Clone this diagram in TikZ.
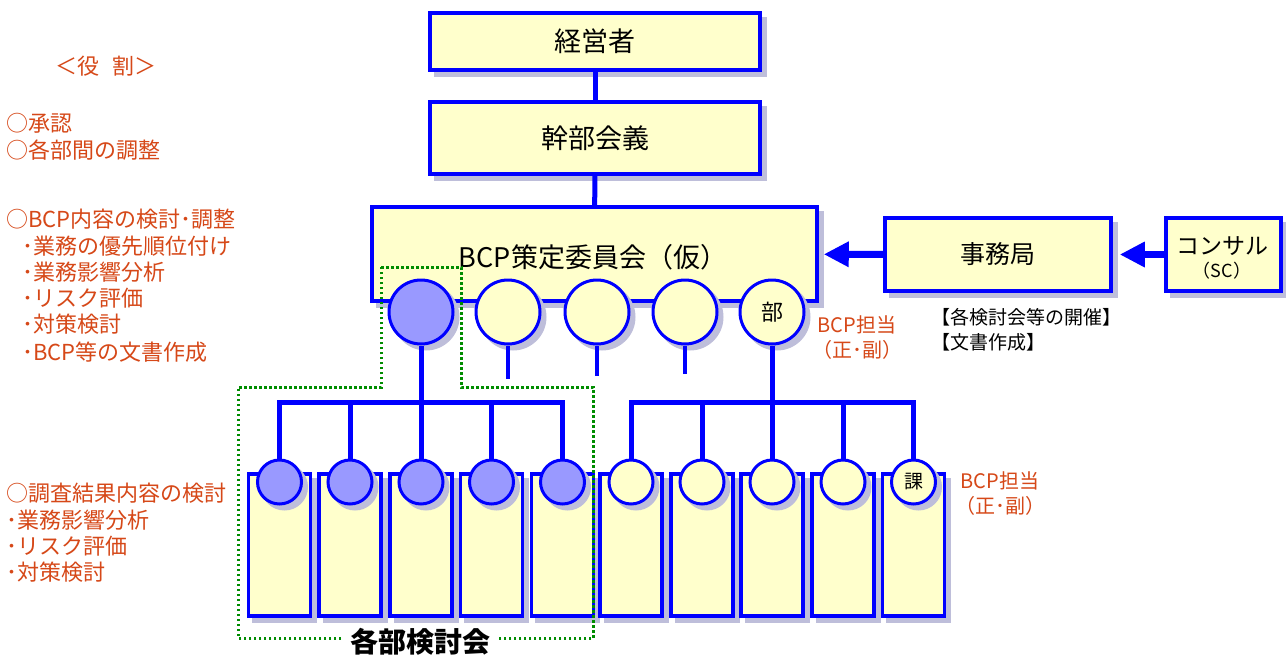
\documentclass[tikz,border=0pt]{standalone}
\usepackage{fontspec}
\setmainfont{Noto Sans CJK JP}
\usetikzlibrary{arrows.meta}
\definecolor{boxy}{RGB}{255,255,204}
\definecolor{bl}{RGB}{0,0,255}
\definecolor{cb}{RGB}{153,153,255}
\definecolor{shc}{RGB}{190,190,218}
\definecolor{rt}{RGB}{214,72,24}
\definecolor{gr}{RGB}{0,140,0}
\begin{document}
\begin{tikzpicture}[x=1pt,y=-1pt,
  shad/.style={preaction={fill=shc,draw=shc,line width=3pt,transform canvas={xshift=5pt,yshift=-5pt}}},
  box/.style={draw=bl,fill=boxy,line width=3.5pt,inner sep=0pt,shad},
  bigc/.style={circle,draw=bl,line width=3pt,minimum size=64pt,inner sep=0pt,shad},
  smc/.style={circle,draw=bl,line width=3pt,minimum size=44pt,inner sep=0pt,shad},
  tall/.style={box,minimum width=62pt,minimum height=142pt},
  conn/.style={draw=bl,line width=5pt},
  thin/.style={draw=bl,line width=4pt},
  arr/.style={draw=bl,line width=7pt,-{Triangle[length=25pt,width=24pt]}},
  role/.style={text=rt,font=\fontsize{22pt}{24pt}\selectfont,inner sep=0pt,anchor=west},
  tanto/.style={text=rt,font=\fontsize{20pt}{24pt}\selectfont,inner sep=0pt},
  note/.style={font=\fontsize{19pt}{22pt}\selectfont,inner sep=0pt,anchor=west},
  big/.style={font=\fontsize{27pt}{30pt}\selectfont}
]
\useasboundingbox[fill=white] (0,0) rectangle (1286,659);

% main boxes
\node[box,big,minimum width=330pt,minimum height=57pt] (keiei) at (595,41.5) {経営者};
\node[box,big,minimum width=330pt,minimum height=72pt] (kanbu) at (595,138) {幹部会義};
\node[box,minimum width=445pt,minimum height=94pt] (bcp) at (594.5,254) {};
\node[big,inner sep=0pt] (bcpt) at (593,257) {BCP策定委員会（仮）};
\node[box,font=\fontsize{25pt}{28pt}\selectfont,minimum width=226pt,minimum height=73pt] (jimu) at (998,254.5) {事務局};
\node[box,minimum width=115pt,minimum height=73pt] (consul) at (1223.5,254.5) {};
\node[font=\fontsize{23pt}{26pt}\selectfont,inner sep=0pt] (consult) at (1222,246) {コンサル};
\node[font=\fontsize{18pt}{20pt}\selectfont,inner sep=0pt] (sc) at (1222,271) {（SC）};

% tall boxes
\foreach \i/\x in {1/279.5,2/350,3/421,4/491.5,5/562.5,6/631,7/702,8/772,9/843,10/913.5}{
  \node[tall] (t\i) at (\x,545) {};
}

% circles on committee box
\node[bigc,fill=cb] (c1) at (421,312) {};
\node[bigc,fill=boxy] (c2) at (508,312) {};
\node[bigc,fill=boxy] (c3) at (597,312) {};
\node[bigc,fill=boxy] (c4) at (685,312) {};
\node[bigc,fill=boxy,font=\fontsize{22pt}{24pt}\selectfont] (c5) at (772,312) {部};

% small circles
\foreach \i/\x in {1/279.5,2/350,3/421,4/491.5,5/562.5}{
  \node[smc,fill=cb] (s\i) at (\x,482) {};
}
\foreach \i/\x in {6/631,7/702,8/772,9/843}{
  \node[smc,fill=boxy] (s\i) at (\x,482) {};
}
\node[smc,fill=boxy,font=\fontsize{19pt}{21pt}\selectfont] (s10) at (913.5,482) {課};

% connectors
\draw[conn] (keiei) -- (kanbu);
\draw[conn] (kanbu) -- (bcp);
\coordinate (e2) at (508,379);
\coordinate (e3) at (597,376);
\coordinate (e4) at (685,374);
\draw[thin] (c2) -- (e2);
\draw[thin] (c3) -- (e3);
\draw[thin] (c4) -- (e4);
\coordinate (busL) at (421,402);
\coordinate (busR) at (772,402);
\draw[conn] (c1) -- (busL);
\draw[conn] (c5) -- (busR);
\foreach \i in {1,...,5}{ \draw[conn] (busL) -| (s\i); }
\foreach \i in {6,...,10}{ \draw[conn] (busR) -| (s\i); }
\draw[arr,shorten >=5pt] (jimu) -- (bcp);
\draw[arr,shorten >=7pt] (consul) -- (jimu);

% green dotted group
\draw[gr,line width=3pt,dash pattern=on 2.5pt off 2.5pt] (381,267) -- (461,267) -- (461,387) -- (593,387) -- (593,638)
  -- (238,638) -- (238,387) -- (381,387) -- cycle;
\node[fill=white,font=\bfseries\fontsize{28pt}{30pt}\selectfont,inner xsep=8pt,inner ysep=2pt] (kakubu) at (420,642) {各部検討会};

% labels
\node[tanto] (tb1) at (857,325) {BCP担当};
\node[tanto] (tb2) at (857,350) {（正･副）};
\node[tanto] (tb3) at (1000,481) {BCP担当};
\node[tanto] (tb4) at (1000,506) {（正･副）};
\node[note] (n1) at (931,317) {【各検討会等の開催】};
\node[note] (n2) at (931,342) {【文書作成】};

% roles
\node[role,anchor=center] (l0) at (106,66) {＜役\hspace{14pt}割＞};
\node[role] (l1) at (6,123) {○承認};
\node[role] (l2) at (6,150) {○各部間の調整};
\node[role] (l3) at (6,219) {○BCP内容の検討･調整};
\node[role] (l4) at (22,246) {･業務の優先順位付け};
\node[role] (l5) at (22,272) {･業務影響分析};
\node[role] (l6) at (22,298) {･リスク評価};
\node[role] (l7) at (22,324) {･対策検討};
\node[role] (l8) at (22,352) {･BCP等の文書作成};
\node[role] (l9) at (6,493) {○調査結果内容の検討};
\node[role] (l10) at (6,520) {･業務影響分析};
\node[role] (l11) at (6,546) {･リスク評価};
\node[role] (l12) at (6,572) {･対策検討};
\end{tikzpicture}
\end{document}
